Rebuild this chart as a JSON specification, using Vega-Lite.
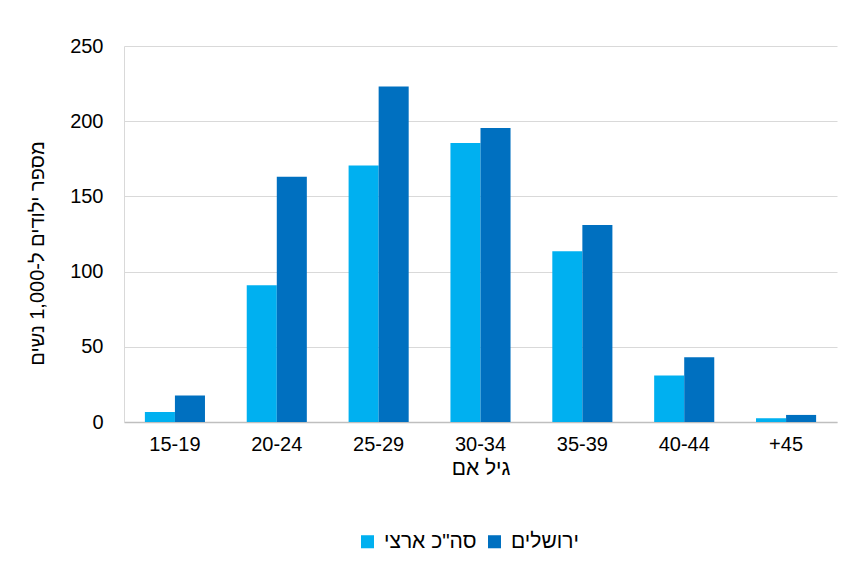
{
  "$schema": "https://vega.github.io/schema/vega-lite/v6.json",
  "width": 713,
  "height": 376,
  "autosize": {"type": "none"},
  "padding": {"left": 124, "top": 46, "right": 12, "bottom": 139},
  "background": "white",
  "config": {
    "font": "Liberation Sans",
    "view": {"stroke": null}
  },
  "data": {
    "values": [
      {"age": "15-19", "series": "סה\"כ ארצי", "ord": 0, "value": 6.7},
      {"age": "15-19", "series": "ירושלים", "ord": 1, "value": 17.7},
      {"age": "20-24", "series": "סה\"כ ארצי", "ord": 0, "value": 91},
      {"age": "20-24", "series": "ירושלים", "ord": 1, "value": 163},
      {"age": "25-29", "series": "סה\"כ ארצי", "ord": 0, "value": 170.5},
      {"age": "25-29", "series": "ירושלים", "ord": 1, "value": 223},
      {"age": "30-34", "series": "סה\"כ ארצי", "ord": 0, "value": 185.5},
      {"age": "30-34", "series": "ירושלים", "ord": 1, "value": 195.5},
      {"age": "35-39", "series": "סה\"כ ארצי", "ord": 0, "value": 113.5},
      {"age": "35-39", "series": "ירושלים", "ord": 1, "value": 131},
      {"age": "40-44", "series": "סה\"כ ארצי", "ord": 0, "value": 31},
      {"age": "40-44", "series": "ירושלים", "ord": 1, "value": 43},
      {"age": "+45", "series": "סה\"כ ארצי", "ord": 0, "value": 2.5},
      {"age": "+45", "series": "ירושלים", "ord": 1, "value": 4.7}
    ]
  },
  "mark": {"type": "bar"},
  "encoding": {
    "x": {
      "field": "age",
      "type": "nominal",
      "sort": ["15-19", "20-24", "25-29", "30-34", "35-39", "40-44", "+45"],
      "scale": {"paddingInner": 0.41, "paddingOuter": 0.205},
      "axis": {
        "title": "גיל אם",
        "titleFontSize": 21,
        "titleFontWeight": "normal",
        "titleColor": "#000000",
        "titlePadding": 3,
        "labelAngle": 0,
        "labelFontSize": 20,
        "labelColor": "#000000",
        "labelPadding": 12,
        "ticks": false,
        "domainColor": "#bfbfbf",
        "domainWidth": 1.5
      }
    },
    "xOffset": {"field": "ord", "type": "ordinal"},
    "y": {
      "field": "value",
      "type": "quantitative",
      "scale": {"domain": [0, 250], "nice": false},
      "axis": {
        "title": "מספר ילודים ל-1,000 נשים",
        "titleFontSize": 20,
        "titleFontWeight": "normal",
        "titleColor": "#000000",
        "titleX": -87,
        "titleY": 207,
        "titleAlign": "center",
        "titleBaseline": "middle",
        "titleAngle": -90,
        "values": [0, 50, 100, 150, 200, 250],
        "labelFontSize": 20,
        "labelColor": "#000000",
        "labelPadding": 21,
        "ticks": false,
        "domain": true,
        "domainColor": "#d9d9d9",
        "gridColor": "#d9d9d9",
        "gridWidth": 1.2
      }
    },
    "color": {
      "field": "series",
      "type": "nominal",
      "scale": {"domain": ["סה\"כ ארצי", "ירושלים"], "range": ["#00B0F0", "#0070C0"]},
      "legend": {
        "title": null,
        "orient": "none",
        "direction": "horizontal",
        "legendX": 233,
        "legendY": 485,
        "symbolType": "square",
        "symbolSize": 170,
        "symbolStrokeWidth": 0,
        "labelFontSize": 21,
        "labelColor": "#000000",
        "labelOffset": 6,
        "columnPadding": 7
      }
    }
  }
}
